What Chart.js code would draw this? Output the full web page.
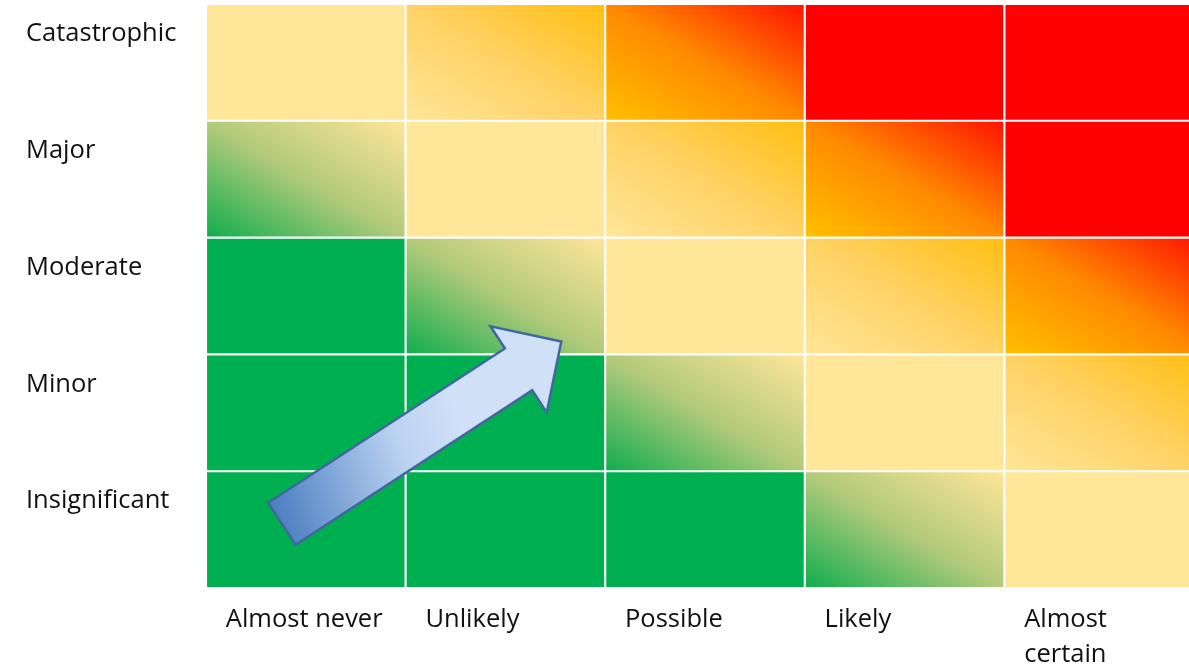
<!DOCTYPE html>
<html>
<head>
<meta charset="utf-8">
<title>Risk matrix</title>
<script src="https://cdn.jsdelivr.net/npm/chart.js@4.4.0/dist/chart.umd.min.js"></script>
<style>
  html, body { margin: 0; padding: 0; background: #fff; overflow: hidden; }
  #wrap { position: relative; width: 1210px; height: 666px; }
</style>
</head>
<body>
<div id="wrap"><canvas id="chart"></canvas></div>
<script>
// ── Data ──────────────────────────────────────────────
const likelihood = ["Almost never", "Unlikely", "Possible", "Likely", ["Almost", "certain"]];
const impact     = ["Insignificant", "Minor", "Moderate", "Major", "Catastrophic"];

// risk level of each cell, one row per impact level (bottom row first)
// 0 green, 1 green→pale, 2 pale, 3 pale→amber, 4 amber→red, 5 red
const rowInsignificant = [0, 0, 0, 1, 2];
const rowMinor         = [0, 0, 1, 2, 3];
const rowModerate      = [0, 1, 2, 3, 4];
const rowMajor         = [1, 2, 3, 4, 5];
const rowCatastrophic  = [2, 3, 4, 5, 5];
const riskRows = [rowInsignificant, rowMinor, rowModerate, rowMajor, rowCatastrophic];
const cellSize = [1, 1, 1, 1, 1];

// arrow, in axis units: [likelihood index, impact value]
const arrowTail = [-0.12, 0.55];
const arrowTip  = [1.28, 2.11];

// ── Styles ────────────────────────────────────────────
const FONT = { family: "'Open Sans', sans-serif", size: 25.5, lineHeight: 1.34 };
const fills = [
  "#00B050",
  [[0, "#0fad4d"], [0.5, "#b3ca7b"], [1, "#FFE699"]],
  "#FFE699",
  [[0, "#FFE699"], [0.5, "#FFD265"], [1, "#FFBE10"]],
  [[0, "#FFC000"], [0.5, "#FF8A00"], [1, "#FF1200"]],
  "#FF0000"
];

// gradient runs bottom-left → top-right, isolines along the other diagonal
function cellFill(c) {
  const chart = c.chart;
  const f = fills[riskRows[c.datasetIndex][c.dataIndex]];
  if (typeof f === "string") return f;
  const { x, y } = chart.scales;
  if (!chart.chartArea || !x || !y) return f[0][1];
  const half = (x.getPixelForValue(1) - x.getPixelForValue(0)) / 2;
  const x0 = x.getPixelForValue(c.dataIndex) - half;
  const w  = half * 2;
  const yb = y.getPixelForValue(c.datasetIndex);
  const h  = yb - y.getPixelForValue(c.datasetIndex + 1);
  const L2 = w * w + h * h;
  const g = chart.ctx.createLinearGradient(x0, yb, x0 + 2 * w * h * h / L2, yb - 2 * w * w * h / L2);
  f.forEach(([o, col]) => g.addColorStop(o, col));
  return g;
}

// ── Arrow ─────────────────────────────────────────────
const arrowPlugin = {
  id: "arrow",
  afterDatasetsDraw(chart) {
    const { ctx, scales: { x, y } } = chart;
    const tx = x.getPixelForValue(arrowTail[0]), ty = y.getPixelForValue(arrowTail[1]);
    const hx = x.getPixelForValue(arrowTip[0]),  hy = y.getPixelForValue(arrowTip[1]);
    const L = Math.hypot(hx - tx, hy - ty);
    const ux = (hx - tx) / L, uy = (hy - ty) / L;
    const nx = uy, ny = -ux;
    const shaft = 25, head = 51.5, headLen = 51;
    const bx = tx + ux * (L - headLen), by = ty + uy * (L - headLen);
    const pts = [
      [tx + nx * shaft, ty + ny * shaft],
      [bx + nx * shaft, by + ny * shaft],
      [bx + nx * head,  by + ny * head],
      [hx, hy],
      [bx - nx * head,  by - ny * head],
      [bx - nx * shaft, by - ny * shaft],
      [tx - nx * shaft, ty - ny * shaft]
    ];
    ctx.save();
    ctx.beginPath();
    pts.forEach(([px, py], i) => i ? ctx.lineTo(px, py) : ctx.moveTo(px, py));
    ctx.closePath();
    const g = ctx.createLinearGradient(pts[0][0], pts[0][1],
      tx + ux * L * 0.6 - nx * shaft, ty + uy * L * 0.6 - ny * shaft);
    g.addColorStop(0, "#4a7dbf");
    g.addColorStop(0.7, "#bcd3f2");
    g.addColorStop(1, "#cfe0f7");
    ctx.fillStyle = g;
    ctx.fill();
    ctx.lineWidth = 2.5;
    ctx.lineJoin = "miter";
    ctx.strokeStyle = "#41689e";
    ctx.stroke();
    ctx.restore();
  }
};

// ── Chart ─────────────────────────────────────────────
new Chart(document.getElementById("chart"), {
  type: "bar",
  data: {
    labels: likelihood,
    datasets: impact.map(name => ({
      label: name,
      data: cellSize,
      backgroundColor: cellFill,
      borderColor: "#ffffff",
      borderWidth: 1.4,
      borderSkipped: false,
      barPercentage: 1,
      categoryPercentage: 1
    }))
  },
  options: {
    responsive: true,
    maintainAspectRatio: false,
    animation: false,
    layout: { padding: { left: 26, right: 6, top: 4, bottom: 0 } },
    plugins: { legend: { display: false }, tooltip: { enabled: false } },
    scales: {
      x: {
        stacked: true,
        grid: { display: false, drawTicks: false },
        border: { display: false },
        ticks: { align: "start", labelOffset: -80, padding: 15, maxRotation: 0, autoSkip: false, color: "#111", font: FONT },
        afterFit: s => { s.height = 78; s.paddingLeft = 0; s.paddingRight = 0; }
      },
      y: {
        stacked: true,
        min: 0,
        max: 5,
        grid: { display: false, drawTicks: false },
        border: { display: false },
        ticks: {
          stepSize: 1,
          crossAlign: "far",
          labelOffset: 30,
          color: "#111",
          font: FONT,
          callback: v => (v >= 1 ? impact[v - 1] : "")
        },
        afterFit: s => { s.width = 180; s.paddingTop = 0; s.paddingBottom = 0; }
      }
    }
  },
  plugins: [arrowPlugin]
});
</script>
</body>
</html>
